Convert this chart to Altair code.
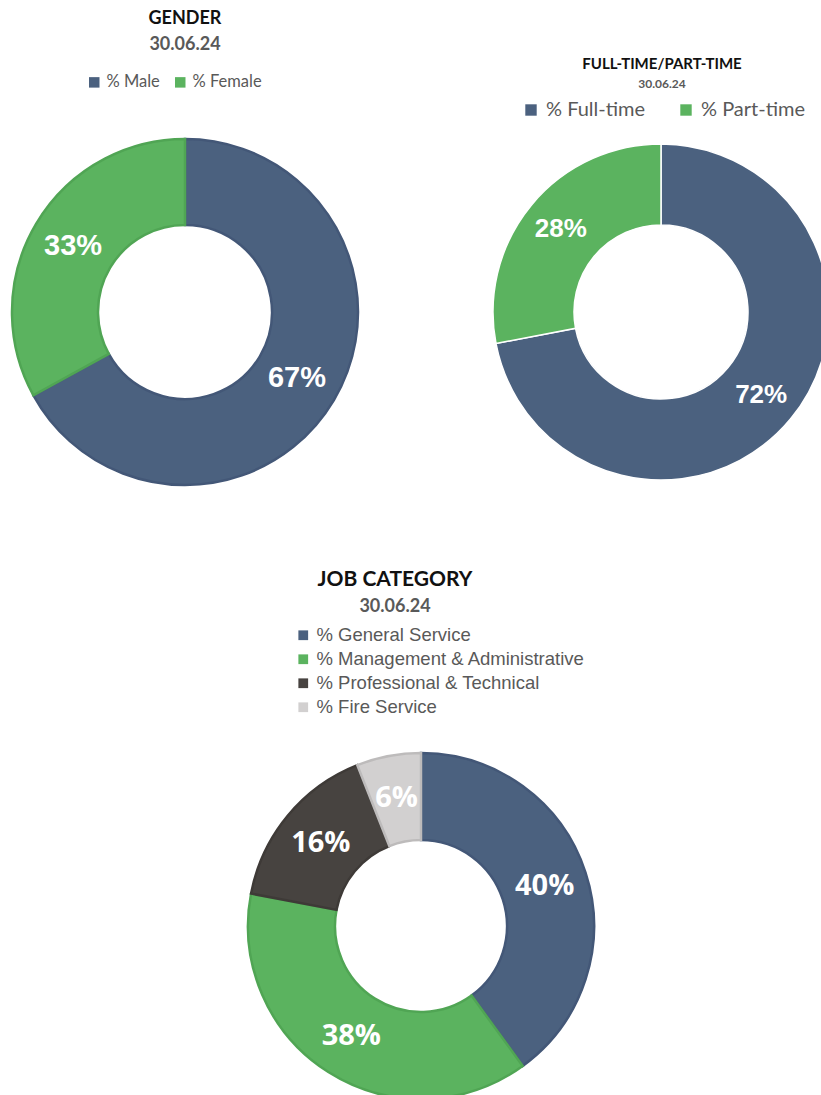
import altair as alt
import pandas as pd

# ---- data ----
gender_cats = ["% Male", "% Female"]
gender_vals = [67, 33]
gender_colors = ["#4b617f", "#5bb35f"]
gender_edges = ["#435777", "#50a554"]

ft_cats = ["% Full-time", "% Part-time"]
ft_vals = [72, 28]
ft_colors = ["#4b617f", "#5bb35f"]

job_cats = ["% General Service", "% Management & Administrative",
            "% Professional & Technical", "% Fire Service"]
job_vals = [40, 38, 16, 6]
job_colors = ["#4b617f", "#5bb35f", "#474340", "#d2d0d0"]
job_edges = ["#435777", "#50a554", "#3e3a37", "#bdbbbb"]

date_label = "30.06.24"


def make_df(cats, vals, key):
    return pd.DataFrame({
        key: cats,
        "value": vals,
        "idx": list(range(len(cats))),
        "lbl": [f"{v}%" for v in vals],
    })


g_df = make_df(gender_cats, gender_vals, "gcat")
f_df = make_df(ft_cats, ft_vals, "fcat")
j_df = make_df(job_cats, job_vals, "jcat")


def donut(df, key, cats, colors, edges, cx, cy, r_in, r_out, legend, label_r,
          label_font, label_size, stroke_w=1.5):
    base = alt.Chart(df)
    arc = base.mark_arc(innerRadius=r_in, outerRadius=r_out, strokeWidth=stroke_w).encode(
        theta=alt.Theta("value:Q", stack=True),
        order=alt.Order("idx:Q"),
        color=alt.Color(f"{key}:N", scale=alt.Scale(domain=cats, range=colors), legend=legend),
        stroke=alt.Stroke(f"{key}:N", scale=alt.Scale(domain=cats, range=edges), legend=None),
        x=alt.value(cx),
        y=alt.value(cy),
    )
    txt = base.mark_text(radius=label_r, font=label_font, fontSize=label_size,
                         fontWeight="bold", color="white", baseline="middle",
                         align="center").encode(
        theta=alt.Theta("value:Q", stack=True),
        order=alt.Order("idx:Q"),
        text="lbl:N",
        x=alt.value(cx),
        y=alt.value(cy),
    )
    return arc, txt


def title_text(s, x, y, size, color, font="Lato"):
    return alt.Chart(pd.DataFrame({"t": [s]})).mark_text(
        font=font, fontSize=size, fontWeight="bold", color=color,
        align="center", baseline="middle").encode(
        text="t:N", x=alt.value(x), y=alt.value(y))


g_leg = alt.Legend(orient="none", legendX=86, legendY=74, direction="horizontal",
                   title=None, symbolType="square", symbolSize=110,
                   symbolStrokeWidth=0, labelFont="Lato", labelFontSize=16.5,
                   labelColor="#595959", columnPadding=12, labelOffset=4, labelLimit=0)
f_leg = alt.Legend(orient="none", legendX=521, legendY=100, direction="horizontal",
                   title=None, symbolType="square", symbolSize=130,
                   symbolStrokeWidth=0, labelFont="Lato", labelFontSize=20,
                   labelColor="#595959", columnPadding=30, labelOffset=5, labelLimit=0)
j_leg = alt.Legend(orient="none", legendX=294, legendY=626, direction="vertical",
                   title=None, symbolType="square", symbolSize=95,
                   symbolStrokeWidth=0, labelFont="Liberation Sans", labelFontSize=18.5,
                   labelColor="#595959", rowPadding=5, labelOffset=4, labelLimit=0)

g_arc, g_txt = donut(g_df, "gcat", gender_cats, gender_colors, gender_edges,
                     185, 312, 87, 173, g_leg, 130, "Liberation Sans", 29, 2.5)
f_arc, f_txt = donut(f_df, "fcat", ft_cats, ft_colors, ["white", "white"],
                     661, 312, 87, 168, f_leg, 130, "Liberation Sans", 26, 1.5)
j_arc, j_txt = donut(j_df, "jcat", job_cats, job_colors, job_edges,
                     421, 926, 86, 173, j_leg, 130, "Open Sans", 29, 2.5)

titles = [
    title_text("GENDER", 185, 19, 18, "#111111"),
    title_text(date_label, 185, 45, 18, "#595959"),
    title_text("FULL-TIME/PART-TIME", 662, 64, 15, "#111111"),
    title_text(date_label, 662, 84, 12, "#595959"),
    title_text("JOB CATEGORY", 395, 580, 21, "#111111"),
    title_text(date_label, 395, 607, 18, "#595959"),
]

chart = alt.layer(
    g_arc, g_txt, f_arc, f_txt, j_arc, j_txt, *titles
).resolve_scale(
    color="independent", stroke="independent", theta="independent"
).properties(
    width=821, height=1095, padding=0, autosize=alt.AutoSizeParams(type="none")
).configure_view(stroke=None)

chart.save("out.html", embed_options={"renderer": "svg", "actions": False})
